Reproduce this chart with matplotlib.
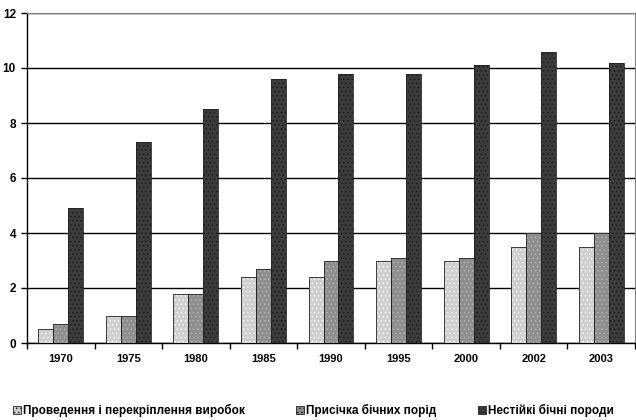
import matplotlib
matplotlib.use("Agg")
import matplotlib.pyplot as plt
import numpy as np
from matplotlib.ticker import FixedLocator
from matplotlib.patches import Rectangle

plt.rcParams.update({
    "font.family": ["Liberation Sans", "DejaVu Sans"],
    "font.weight": "bold",
    "hatch.linewidth": 0.6,
})

years = ["1970", "1975", "1980", "1985", "1990", "1995", "2000", "2002", "2003"]
series_names = [
    "Проведення і перекріплення виробок",
    "Присічка бічних порід",
    "Нестійкі бічні породи",
]
drivage = [0.5, 1.0, 1.8, 2.4, 2.4, 3.0, 3.0, 3.5, 3.5]
trimming = [0.7, 1.0, 1.8, 2.7, 3.0, 3.1, 3.1, 4.0, 4.0]
unstable = [4.9, 7.3, 8.5, 9.6, 9.8, 9.8, 10.1, 10.6, 10.2]

W, H = 636, 420
fig = plt.figure(figsize=(W / 100, H / 100), dpi=100)
ax = fig.add_axes([27 / W, 1 - 343 / H, 608 / W, 330 / H])

x = np.arange(len(years))
w = 0.222
styles = [
    ("#cfcfcf", "#f4f4f4", "...."),
    ("#8e8e8e", "#b4b4b4", "...."),
    ("#3c3c3c", "#1c1c1c", "...."),
]
for i, (vals, name, (fc, hc, hatch)) in enumerate(zip([drivage, trimming, unstable], series_names, styles)):
    ax.bar(x + (i - 1) * w, vals, width=w, facecolor=fc, edgecolor=hc, hatch=hatch,
           linewidth=0, label=name, zorder=3)
    ax.bar(x + (i - 1) * w, vals, width=w, facecolor="none", edgecolor="#222222",
           linewidth=0.6, zorder=4)

ax.set_xlim(-0.5, len(years) - 0.5)
ax.set_ylim(0, 12)
ax.set_yticks(np.arange(0, 13, 2))
ax.yaxis.grid(True, color="black", linewidth=1.0, zorder=0)
ax.set_axisbelow(True)

ax.set_xticks(x)
ax.set_xticklabels(years)
ax.tick_params(axis="x", which="major", length=0, pad=8, labelsize=8)
ax.xaxis.set_minor_locator(FixedLocator(np.arange(-0.5, len(years), 1.0)))
ax.tick_params(axis="x", which="minor", length=4, width=1, color="black", direction="out")
ax.tick_params(axis="y", length=4, width=1, labelsize=8.5, pad=4)

for s in ["top", "right"]:
    ax.spines[s].set_color("#808080")
    ax.spines[s].set_linewidth(0.8)
ax.spines["left"].set_linewidth(1.0)
ax.spines["bottom"].set_linewidth(1.0)

# legend drawn by hand, Excel-style uneven spacing
legend_x = [13, 296, 478]
for lx, name, (fc, _, hatch) in zip(legend_x, series_names, styles):
    fig.patches.append(Rectangle((lx / W, 6 / H), 8 / W, 8 / H, transform=fig.transFigure,
                                 facecolor=fc, edgecolor="#222222", hatch=hatch, linewidth=0.6))
    fig.text((lx + 10) / W, 10 / H, name, fontsize=8.5, ha="left", va="center")

fig.savefig("out.png", dpi=100)
